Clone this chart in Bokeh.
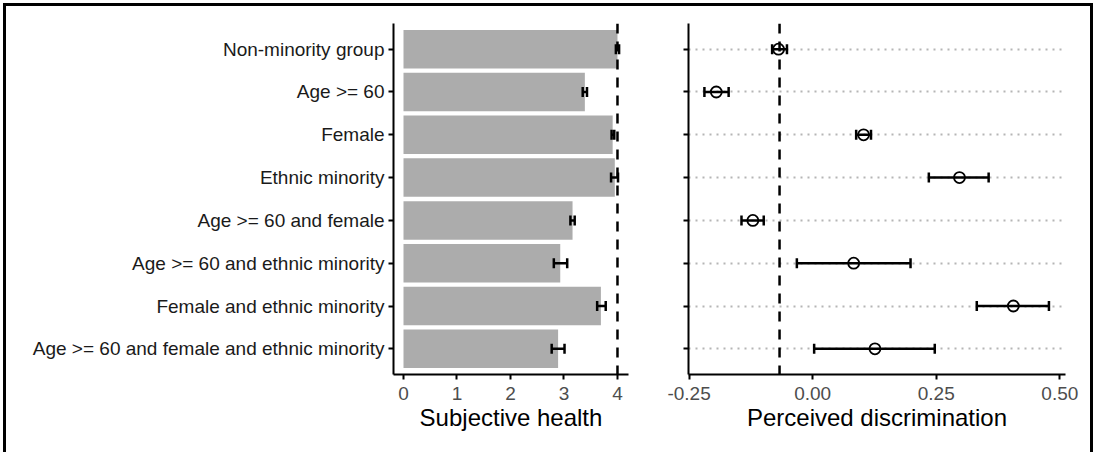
from bokeh.plotting import figure
from bokeh.layouts import row
from bokeh.models import (ColumnDataSource, FactorRange, Range1d, Span, Whisker,
                          TeeHead, FixedTicker, NumeralTickFormatter)
from bokeh.embed import file_html
from bokeh.resources import INLINE

# ---------------- data ----------------
categories = ["Non-minority group", "Age >= 60", "Female", "Ethnic minority",
              "Age >= 60 and female", "Age >= 60 and ethnic minority",
              "Female and ethnic minority",
              "Age >= 60 and female and ethnic minority"]
health = [4.00, 3.39, 3.91, 3.95, 3.16, 2.93, 3.69, 2.89]
health_lo = [3.97, 3.35, 3.89, 3.88, 3.12, 2.81, 3.62, 2.77]
health_hi = [4.03, 3.43, 3.94, 4.01, 3.20, 3.06, 3.78, 3.01]
disc = [-0.069, -0.195, 0.103, 0.297, -0.121, 0.083, 0.406, 0.126]
disc_lo = [-0.082, -0.219, 0.088, 0.235, -0.144, -0.032, 0.332, 0.003]
disc_hi = [-0.052, -0.170, 0.118, 0.356, -0.099, 0.198, 0.478, 0.247]
health_ref = 4.0
disc_ref = -0.067
health_ticks = [0, 1, 2, 3, 4]
disc_ticks = [-0.25, 0.0, 0.25, 0.50]

FONT = "Liberation Sans"

src = ColumnDataSource(dict(cat=categories, health=health, hlo=health_lo, hhi=health_hi,
                            disc=disc, dlo=disc_lo, dhi=disc_hi))
factors = list(reversed(categories))


def style(p):
    p.outline_line_color = None
    p.background_fill_color = "white"
    p.border_fill_color = "white"
    p.xgrid.grid_line_color = None
    for ax in (p.xaxis[0], p.yaxis[0]):
        ax.axis_line_width = 2
        ax.axis_line_color = "black"
        ax.major_tick_line_width = 2
        ax.major_tick_line_color = "black"
        ax.major_tick_out = 5
        ax.major_tick_in = 0
        ax.minor_tick_line_color = None
        ax.major_label_text_font = FONT
        ax.axis_label_text_font = FONT
        ax.axis_label_text_font_style = "normal"
    p.xaxis.major_label_text_font_size = "19px"
    p.xaxis.major_label_text_color = "#4d4d4d"
    p.xaxis.axis_label_text_font_size = "24px"
    p.xaxis.axis_label_text_color = "black"
    p.xaxis.axis_label_standoff = 1
    p.xaxis.major_label_standoff = 7


H = 446
TOP = 17
FH = 351
BOT = H - TOP - FH

# ---------------- left panel ----------------
p1 = figure(width=640, height=H, y_range=FactorRange(factors=factors, range_padding=0.1,
                                                     range_padding_units="absolute"),
            x_range=Range1d(-0.187, 4.206), output_backend="svg", toolbar_location=None,
            min_border_left=387, min_border_right=18, min_border_top=TOP, min_border_bottom=BOT)
style(p1)
p1.ygrid.grid_line_color = None
p1.hbar(y="cat", right="health", left=0, height=0.9, source=src,
        fill_color="#acacac", line_color=None)
p1.add_layout(Whisker(source=src, base="cat", lower="hlo", upper="hhi", dimension="width",
                      line_width=2.5, line_color="black", level="overlay",
                      lower_head=TeeHead(size=10, line_width=2.5, line_color="black"),
                      upper_head=TeeHead(size=10, line_width=2.5, line_color="black")))
p1.add_layout(Span(location=health_ref, dimension="height", line_dash="10 8",
                   line_width=2.5, line_color="black", level="overlay"))
p1.xaxis.ticker = FixedTicker(ticks=health_ticks)
p1.xaxis.axis_label = "Subjective health"
p1.yaxis.major_label_text_font_size = "19px"
p1.yaxis.major_label_text_color = "#1a1a1a"
p1.yaxis.major_label_standoff = 4

# ---------------- right panel ----------------
p2 = figure(width=444, height=H, y_range=FactorRange(factors=factors, range_padding=0.1,
                                                     range_padding_units="absolute"),
            x_range=Range1d(-0.2512, 0.5115), output_backend="svg", toolbar_location=None,
            min_border_left=42, min_border_right=25, min_border_top=TOP, min_border_bottom=BOT)
style(p2)
p2.ygrid.grid_line_color = "#b5b5b5"
p2.ygrid.grid_line_dash = "2 5"
p2.ygrid.grid_line_width = 2
p2.yaxis.major_label_text_font_size = "1px"
p2.yaxis.major_label_text_color = None
p2.yaxis.major_label_standoff = 0
p2.add_layout(Span(location=disc_ref, dimension="height", line_dash="10 8",
                   line_width=2.5, line_color="black", level="underlay"))
p2.add_layout(Whisker(source=src, base="cat", lower="dlo", upper="dhi", dimension="width",
                      line_width=2.5, line_color="black", level="overlay",
                      lower_head=TeeHead(size=10, line_width=2.5, line_color="black"),
                      upper_head=TeeHead(size=10, line_width=2.5, line_color="black")))
p2.scatter(x="disc", y="cat", source=src, size=11, marker="circle",
           fill_color=None, line_color="black", line_width=1.8, level="overlay")
p2.xaxis.ticker = FixedTicker(ticks=disc_ticks)
p2.xaxis.formatter = NumeralTickFormatter(format="0.00")
p2.xaxis.axis_label = "Perceived discrimination"

layout = row(p1, p2, styles={"border-top": "3px solid black",
                             "border-left": "3px solid black",
                             "border-right": "3px solid black",
                             "margin-left": "3px", "margin-top": "3px"})

open("out.html", "w").write(file_html(layout, INLINE))
